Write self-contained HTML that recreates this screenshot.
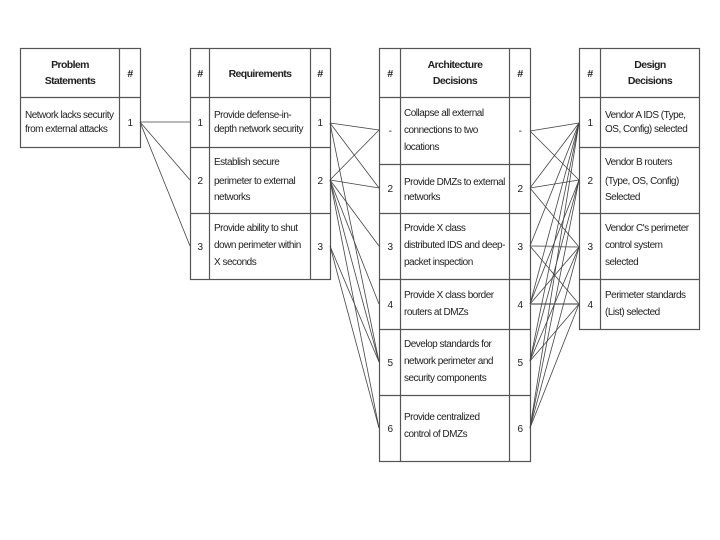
<!DOCTYPE html>
<html><head><meta charset="utf-8"><style>
html,body{margin:0;padding:0;background:#fff;}
svg{display:block;}
text{font-family:"Liberation Sans",sans-serif;font-size:10px;letter-spacing:-0.5px;fill:#222;}
.h{font-weight:bold;font-size:10.5px;letter-spacing:-0.6px;}
</style></head><body>
<svg width="720" height="540" viewBox="0 0 720 540">
<g stroke="#555" stroke-width="1.2" fill="none">
<rect x="20.5" y="48.5" width="120" height="99"/>
<line x1="119.5" y1="48" x2="119.5" y2="147"/>
<line x1="20" y1="97.5" x2="140" y2="97.5"/>
<rect x="190.5" y="48.5" width="140" height="231"/>
<line x1="209.5" y1="48" x2="209.5" y2="279"/>
<line x1="310.5" y1="48" x2="310.5" y2="279"/>
<line x1="190" y1="97.5" x2="330" y2="97.5"/>
<line x1="190" y1="147.5" x2="330" y2="147.5"/>
<line x1="190" y1="213.5" x2="330" y2="213.5"/>
<rect x="379.5" y="48.5" width="151" height="413"/>
<line x1="400.5" y1="48" x2="400.5" y2="461"/>
<line x1="509.5" y1="48" x2="509.5" y2="461"/>
<line x1="379" y1="97.5" x2="530" y2="97.5"/>
<line x1="379" y1="164.5" x2="530" y2="164.5"/>
<line x1="379" y1="213.5" x2="530" y2="213.5"/>
<line x1="379" y1="279.5" x2="530" y2="279.5"/>
<line x1="379" y1="329.5" x2="530" y2="329.5"/>
<line x1="379" y1="395.5" x2="530" y2="395.5"/>
<rect x="579.5" y="48.5" width="120" height="281"/>
<line x1="600.5" y1="48" x2="600.5" y2="329"/>
<line x1="579" y1="97.5" x2="700" y2="97.5"/>
<line x1="579" y1="147.5" x2="700" y2="147.5"/>
<line x1="579" y1="213.5" x2="700" y2="213.5"/>
<line x1="579" y1="279.5" x2="700" y2="279.5"/>
</g>
<g stroke="#444" stroke-width="0.8">
<line x1="140" y1="122" x2="190" y2="122"/>
<line x1="140" y1="122" x2="190" y2="180"/>
<line x1="140" y1="122" x2="190" y2="246"/>
<line x1="330" y1="123" x2="379" y2="130"/>
<line x1="330" y1="123" x2="379" y2="188"/>
<line x1="330" y1="123" x2="379" y2="362"/>
<line x1="330" y1="180" x2="379" y2="130"/>
<line x1="330" y1="180" x2="379" y2="188"/>
<line x1="330" y1="180" x2="379" y2="246"/>
<line x1="330" y1="180" x2="379" y2="304"/>
<line x1="330" y1="180" x2="379" y2="362"/>
<line x1="330" y1="180" x2="379" y2="428"/>
<line x1="330" y1="246" x2="379" y2="362"/>
<line x1="330" y1="246" x2="379" y2="428"/>
<line x1="530" y1="131" x2="579" y2="123"/>
<line x1="530" y1="131" x2="579" y2="180"/>
<line x1="530" y1="188" x2="579" y2="123"/>
<line x1="530" y1="188" x2="579" y2="180"/>
<line x1="530" y1="188" x2="579" y2="247"/>
<line x1="530" y1="246" x2="579" y2="247" stroke="#999" stroke-width="1.5"/>
<line x1="530" y1="246" x2="579" y2="123"/>
<line x1="530" y1="246" x2="579" y2="304"/>
<line x1="530" y1="304" x2="579" y2="304" stroke="#777" stroke-width="1.5"/>
<line x1="530" y1="304" x2="579" y2="123"/>
<line x1="530" y1="304" x2="579" y2="180"/>
<line x1="530" y1="304" x2="579" y2="247"/>
<line x1="530" y1="361" x2="579" y2="123"/>
<line x1="530" y1="361" x2="579" y2="180"/>
<line x1="530" y1="361" x2="579" y2="247"/>
<line x1="530" y1="361" x2="579" y2="304"/>
<line x1="530" y1="428" x2="579" y2="123"/>
<line x1="530" y1="428" x2="579" y2="180"/>
<line x1="530" y1="428" x2="579" y2="247"/>
<line x1="530" y1="428" x2="579" y2="304"/>
</g>
<g text-anchor="middle">
<text class="h" x="70" y="68">Problem</text><text class="h" x="70" y="84">Statements</text>
<text class="h" x="130" y="77">#</text>
<text class="h" x="200" y="77">#</text><text class="h" x="260" y="77">Requirements</text><text class="h" x="320" y="77">#</text>
<text class="h" x="390" y="77">#</text><text class="h" x="455" y="68">Architecture</text><text class="h" x="455" y="84">Decisions</text><text class="h" x="520" y="77">#</text>
<text class="h" x="590" y="77">#</text><text class="h" x="650" y="68">Design</text><text class="h" x="650" y="84">Decisions</text>
<text x="130" y="126">1</text>
<text x="200" y="126">1</text><text x="320" y="126">1</text>
<text x="200" y="184">2</text><text x="320" y="184">2</text>
<text x="200" y="250">3</text><text x="320" y="250">3</text>
<text x="390" y="134">-</text><text x="520" y="134">-</text>
<text x="390" y="192">2</text><text x="520" y="192">2</text>
<text x="390" y="250">3</text><text x="520" y="250">3</text>
<text x="390" y="308">4</text><text x="520" y="308">4</text>
<text x="390" y="366">5</text><text x="520" y="366">5</text>
<text x="390" y="432">6</text><text x="520" y="432">6</text>
<text x="590" y="126">1</text><text x="590" y="184">2</text><text x="590" y="250">3</text><text x="590" y="308">4</text>
</g>
<g>
<text x="25" y="118">Network lacks security</text><text x="25" y="132">from external attacks</text>
<text x="214" y="118">Provide defense-in-</text><text x="214" y="132">depth network security</text>
<text x="214" y="165">Establish secure</text><text x="214" y="184">perimeter to external</text><text x="214" y="200">networks</text>
<text x="214" y="231">Provide ability to shut</text><text x="214" y="248">down perimeter within</text><text x="214" y="265">X seconds</text>
<text x="404" y="116">Collapse all external</text><text x="404" y="133">connections to two</text><text x="404" y="150">locations</text>
<text x="404" y="185">Provide DMZs to external</text><text x="404" y="200">networks</text>
<text x="404" y="231">Provide X class</text><text x="404" y="248">distributed IDS and deep-</text><text x="404" y="265">packet inspection</text>
<text x="404" y="298">Provide X class border</text><text x="404" y="315">routers at DMZs</text>
<text x="404" y="347">Develop standards for</text><text x="404" y="364">network perimeter and</text><text x="404" y="381">security components</text>
<text x="404" y="420">Provide centralized</text><text x="404" y="437">control of DMZs</text>
<text x="605" y="118">Vendor A IDS (Type,</text><text x="605" y="132">OS, Config) selected</text>
<text x="605" y="165">Vendor B routers</text><text x="605" y="184">(Type, OS, Config)</text><text x="605" y="200">Selected</text>
<text x="605" y="231">Vendor C's perimeter</text><text x="605" y="248">control system</text><text x="605" y="265">selected</text>
<text x="605" y="298">Perimeter standards</text><text x="605" y="315">(List) selected</text>
</g>
</svg>
</body></html>
